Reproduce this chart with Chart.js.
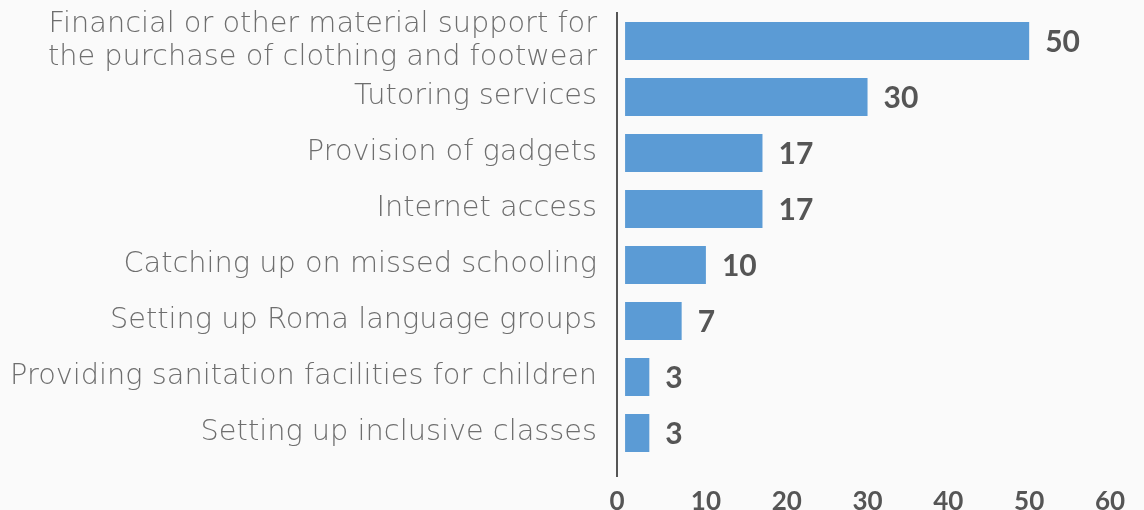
<!DOCTYPE html>
<html>
<head>
<meta charset="utf-8">
<script src="https://cdn.jsdelivr.net/npm/chart.js@4.4.1/dist/chart.umd.min.js"></script>
<style>
  html, body { margin: 0; padding: 0; background: #fafafa; }
  #wrap { width: 1144px; height: 510px; }
</style>
</head>
<body>
<div id="wrap"><canvas id="supportChart"></canvas></div>
<script>
var categories = [
  ["Financial or other material support for", "the purchase of clothing and footwear"],
  "Tutoring services",
  "Provision of gadgets",
  "Internet access",
  "Catching up on missed schooling",
  "Setting up Roma language groups",
  "Providing sanitation facilities for children",
  "Setting up inclusive classes"
];
var values = [50, 30, 17, 17, 10, 7, 3, 3];
var tickLabels = [0, 10, 20, 30, 40, 50, 60];

// value labels at the end of each bar
var barValues = {
  id: 'barValues',
  afterDatasetsDraw: function(chart) {
    var ctx = chart.ctx;
    var meta = chart.getDatasetMeta(0);
    ctx.save();
    ctx.font = "bold 30px Lato";
    ctx.fillStyle = "#555555";
    ctx.textBaseline = "middle";
    ctx.textAlign = "left";
    meta.data.forEach(function(bar, i) {
      ctx.fillText(values[i], bar.x + 16, bar.y + 1);
    });
    ctx.restore();
  }
};

var ctx = document.getElementById('supportChart').getContext('2d');
new Chart(ctx, {
  type: 'bar',
  data: {
    labels: categories,
    datasets: [{
      data: values,
      backgroundColor: "#5b9bd5",
      borderWidth: 0,
      barPercentage: 0.68,
      categoryPercentage: 1
    }]
  },
  options: {
    indexAxis: 'y',
    responsive: true,
    maintainAspectRatio: false,
    animation: false,
    layout: { padding: { top: 13, right: 34, left: 0, bottom: 0 } },
    plugins: {
      legend: { display: false },
      tooltip: { enabled: false }
    },
    scales: {
      x: {
        min: -1,
        max: 60,
        afterBuildTicks: function(scale) {
          scale.ticks = tickLabels.map(function(v, i) {
            return { value: i === 0 ? scale.min : v, label: String(v) };
          });
        },
        afterFit: function(scale) { scale.height = 49; scale.paddingRight = 0; },
        border: { display: false },
        grid: {
          drawOnChartArea: false,
          drawTicks: true,
          tickLength: 16,
          lineWidth: 2,
          color: function(c) { return c.index === 0 ? "#555555" : "rgba(0,0,0,0)"; }
        },
        ticks: {
          autoSkip: false,
          maxRotation: 0,
          padding: 9,
          color: "#555555",
          font: { family: "Lato", size: 26, weight: "bold" },
          callback: function(v, i) { return String(tickLabels[i]); }
        }
      },
      y: {
        afterFit: function(scale) {
          scale.width = 617;
          scale.paddingTop = 0;
          scale.paddingBottom = 0;
        },
        border: { display: true, color: "#555555", width: 2 },
        grid: { display: false, drawTicks: false },
        ticks: {
          autoSkip: false,
          padding: 20,
          color: "#6e6e6e",
          font: { family: "DejaVu Sans", size: 28.8, weight: 200, lineHeight: 1.12 }
        }
      }
    }
  },
  plugins: [barValues]
});
</script>
</body>
</html>
